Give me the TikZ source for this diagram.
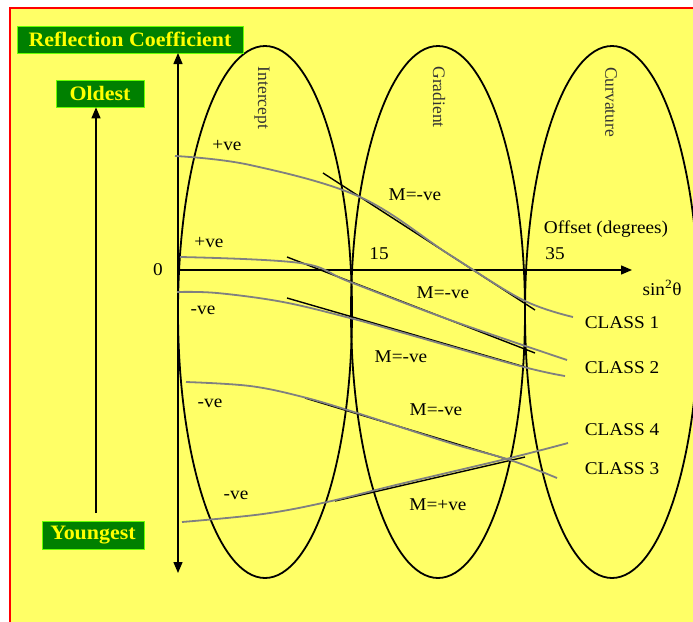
\documentclass[tikz,border=0pt]{standalone}
\usepackage{fontspec}
\setmainfont{Liberation Serif}
\usetikzlibrary{arrows.meta}
\definecolor{bgyellow}{RGB}{255,255,102}
\definecolor{boxgreen}{RGB}{0,128,0}
\definecolor{boxtext}{RGB}{255,255,0}
\definecolor{curvegray}{RGB}{128,128,128}
\newfontfamily\widefont[FakeStretch=1.07]{Liberation Serif}
\begin{document}
\begin{tikzpicture}[x=1pt,y=-1pt,
  greenbox/.style={fill=boxgreen,draw=green!60!yellow,line width=0.6pt,text=boxtext,
    font=\widefont\fontsize{20.5}{22}\selectfont\bfseries,inner sep=0pt,anchor=center},
  lbl/.style={font=\widefont\fontsize{18}{20}\selectfont,inner sep=0pt,anchor=center},
  vlbl/.style={font=\fontsize{17.5}{20}\selectfont,inner sep=0pt,anchor=center,rotate=-90,text=black!80},
  oval/.style={draw=black,line width=1.8pt},
  graycurve/.style={draw=curvegray,line width=1.8pt},
  tangent/.style={draw=black,line width=1.4pt},
  axisline/.style={draw=black,line width=1.4pt},
  tip/.style={-{Triangle[width=9pt,length=11pt]}}]
\useasboundingbox (0,0) rectangle (693,621);
\fill[white] (0,0) rectangle (693,621);
\fill[bgyellow] (10,8) rectangle (700,630);
\draw[red,line width=2pt] (700,8) -- (10,8) -- (10,630);

% ellipses
\draw[oval] (265,312) ellipse [x radius=87pt, y radius=266pt];
\draw[oval] (438,312) ellipse [x radius=87pt, y radius=266pt];
\draw[oval] (612,312) ellipse [x radius=87pt, y radius=266pt];

% boxes
\node[greenbox,minimum width=226pt,minimum height=27pt] (refl) at (130,39.5) {Reflection Coefficient};
\node[greenbox,minimum width=88pt,minimum height=27pt] (old) at (100,93.5) {Oldest};
\node[greenbox,minimum width=102pt,minimum height=28pt] (young) at (93,535) {Youngest};

% axes
\coordinate (vtop) at (178,53);
\coordinate (vbot) at (178,573);
\coordinate (origin) at (178,270);
\coordinate (hend) at (632,270);
\coordinate (agebot) at (96,513);
\draw[axisline,{Triangle[width=9pt,length=11pt]}-{Triangle[width=9pt,length=11pt]}] (vbot) -- (vtop);
\draw[axisline,tip] (origin) -- (hend);
\draw[axisline,tip] (agebot) -- (agebot |- old.south);

% rotated labels
\node[vlbl] (intercept) at (262,98) {Intercept};
\node[vlbl] (gradient) at (439,97) {Gradient};
\node[vlbl] (curvature) at (611,102) {Curvature};

% tangents
\draw[tangent] (323,173) -- (535,310);
\draw[tangent] (287,257) -- (535,353);
\draw[tangent] (287,298) -- (525,367);
\draw[tangent] (305,398) -- (513,461);
\draw[tangent] (335,501) -- (525,457);

% gray curves
\draw[graycurve] plot[smooth,tension=0.6] coordinates {(175,156) (250,165) (360,197) (450,255) (523,300) (573,317)};
\draw[graycurve] plot[smooth,tension=0.6] coordinates {(180,257) (300,263) (350,282) (450,320) (567,360)};
\draw[graycurve] plot[smooth,tension=0.6] coordinates {(177,292) (217,293) (283,302) (350,318) (400,332) (520,366) (565,376)};
\draw[graycurve] plot[smooth,tension=0.6] coordinates {(186,382) (250,386) (303,397) (357,413) (450,443) (510,460) (557,478)};
\draw[graycurve] plot[smooth,tension=0.6] coordinates {(182,522) (263,514) (327,502) (400,484) (510,458) (568,443)};

% labels
\node[lbl] (zero) at (158,270) {0};
\node[lbl] (p1) at (227,146) {+ve};
\node[lbl] (p2) at (209,242) {+ve};
\node[lbl] (n1) at (203,310) {-ve};
\node[lbl] (n2) at (210,403) {-ve};
\node[lbl] (n3) at (236,495) {-ve};
\node[lbl] (m1) at (415,195) {M=-ve};
\node[lbl] (m2) at (443,293) {M=-ve};
\node[lbl] (m3) at (401,357) {M=-ve};
\node[lbl] (m4) at (436,410) {M=-ve};
\node[lbl] (m5) at (438,505) {M=+ve};
\node[lbl] (f15) at (379,254) {15};
\node[lbl] (offset) at (606,229) {Offset (degrees)};
\node[lbl] (f35) at (555,254) {35};
\node[lbl] (sin) at (662,288) {sin\textsuperscript{2}θ};
\node[lbl] (c1) at (622,323) {CLASS 1};
\node[lbl] (c2) at (622,368) {CLASS 2};
\node[lbl] (c4) at (622,430) {CLASS 4};
\node[lbl] (c3) at (622,469) {CLASS 3};
\end{tikzpicture}
\end{document}
